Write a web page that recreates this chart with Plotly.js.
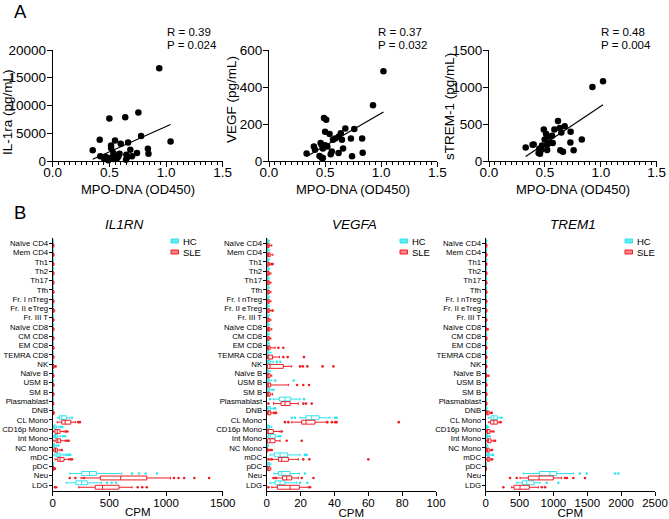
<!DOCTYPE html>
<html><head><meta charset="utf-8">
<script src="https://cdn.plot.ly/plotly-3.0.1.min.js"></script>
<style>html,body{margin:0;padding:0;background:#fff}#chart{width:669px;height:519px}</style>
</head><body><div id="chart"></div>
<script>
// ---------- Panel A data (MPO-DNA vs cytokine) ----------
const mpoIL = [0.94,1.04,0.756,0.64,0.50,0.78,0.415,0.353,0.55,0.665,0.60,0.515,0.515,0.685,0.84,0.845,0.744,0.42,0.47,0.48,0.506,0.535,0.55,0.58,0.59,0.65,0.66,0.70,0.535,0.456,0.647,0.49,0.57];
const il1ra = [16700,3530,8740,7900,7660,4490,3830,1920,3710,3350,3110,2810,2340,2040,2220,1320,1440,840,720,480,540,1440,960,840,1320,1140,720,840,360,360,240,120,540];
const mpoVEGF = [1.02,0.927,0.49,0.51,0.50,0.54,0.68,0.76,0.83,0.835,0.74,0.73,0.65,0.66,0.62,0.59,0.57,0.56,0.55,0.52,0.50,0.47,0.46,0.45,0.47,0.48,0.40,0.41,0.335,0.64,0.62,0.48];
const vegf = [485,301,232,223,158,146,175,173,121,45,25,121,115,68,43,122,115,52,36,79,85,86,97,27,18,16,79,61,41,150,131,67];
const mpoTREM = [1.02,0.925,0.83,0.73,0.728,0.757,0.677,0.617,0.632,0.585,0.647,0.564,0.546,0.528,0.51,0.49,0.498,0.522,0.474,0.45,0.465,0.444,0.456,0.52,0.40,0.39,0.328,0.638,0.662,0.57];
const strem1 = [1078,1001,292,395,251,144,471,539,445,427,386,341,251,332,368,427,292,224,211,166,148,108,99,148,224,220,184,144,126,242];
const xTitleA = 'MPO-DNA (OD450)';
const yTitlesA = ['IL-1ra (pg/mL)','VEGF (pg/mL)','sTREM-1 (pg/mL)'];
const rValues = ['0.39','0.37','0.48'];
const pValues = ['0.024','0.032','0.004'];

// ---------- Panel B data (CPM per cell type) ----------
const cellTypes = ['Naïve CD4','Mem CD4','Th1','Th2','Th17','Tfh','Fr. I nTreg','Fr. II eTreg','Fr. III T','Naïve CD8','CM CD8','EM CD8','TEMRA CD8','NK','Naïve B','USM B','SM B','Plasmablast','DNB','CL Mono','CD16p Mono','Int Mono','NC Mono','mDC','pDC','Neu','LDG'];
const geneNames = ['IL1RN','VEGFA','TREM1'];
const groupNames = ['HC','SLE'];
// each entry: [lower whisker, Q1, median, Q3, upper whisker]
const il1rnHC = [[0,0.5,1,2,4],[0,0.5,1,2,4],[0,0.5,1,2,4],[0,0.5,1,2,4],[0,0.5,1,2,4],[0,0.5,1,2,4],[0,0.5,1,2,4],[0,1,2,3,6],[0,0.5,1,2,4],[0,0.5,1,2,4],[0,0.5,1,2,4],[0,0.5,1,2,4],[0,0.5,1,2,4],[0,1,2,4,8],[0,0.5,1,2,4],[0,0.5,1,2,4],[0,0.5,1,2,4],[0,0.5,1,2,4],[0,0.5,1,2,4],[45,60,80,120,150],[3,10,18,30,55],[5,15,25,40,70],[2,6,12,20,35],[10,30,45,65,100],[0,1,2,4,8],[150,255,325,385,610],[120,205,255,305,430]];
const il1rnSLE = [[0,1,3,6,12],[0,1,3,6,12],[0,1,3,6,12],[0,1,3,6,12],[0,1,3,6,12],[0,1,3,6,12],[0,1,3,6,12],[0,2,5,10,18],[0,1,3,6,12],[0,1,3,6,12],[0,1,3,6,12],[0,1,3,6,12],[0,1,3,6,12],[0,2,5,10,20],[0,1,3,6,12],[0,1,3,6,12],[0,1,3,6,12],[0,1,2,5,10],[0,2,4,8,14],[40,80,110,160,200],[5,20,40,65,100],[10,30,45,70,110],[5,12,25,40,65],[20,45,65,100,140],[0,2,5,10,15],[250,420,600,830,1040],[230,375,440,585,700]];
const il1rnHCOut = [[],[],[],[],[],[],[],[],[],[],[],[],[],[],[],[],[],[],[],[170],[70,85],[90,110],[50],[120,140,155],[],[700,760,820,920],[480,520,560]];
const il1rnSLEOut = [[],[],[],[],[],[],[],[],[],[],[],[],[],[25],[],[],[],[],[],[225,240],[115,130],[125,140],[80],[155,170],[20],[150,200,275,1070,1110,1160,1250,1380],[20,30,750,790,830]];

const vegfaHC = [[0,0.2,0.4,0.8,1.5],[0,0.2,0.4,0.8,1.5],[0,0.2,0.4,0.8,1.5],[0,0.2,0.4,0.8,1.5],[0,0.2,0.4,0.8,1.5],[0,0.2,0.4,0.8,1.5],[0,0.2,0.4,0.8,1.5],[0,0.2,0.4,0.8,1.5],[0,0.2,0.4,0.8,1.5],[0,0.2,0.4,0.8,1.5],[0,0.2,0.4,0.8,1.5],[0,0.2,0.4,0.8,1.5],[0,0.3,0.6,1.2,2.5],[0,0.5,1,2,4],[0,0.2,0.5,1,2],[0,0.3,0.8,1.5,3],[0,0.3,0.8,1.5,3],[4,7.5,10.8,14.2,19.7],[0,0.5,1.2,2.2,4],[19.7,23.2,26.6,30.9,37.4],[0,0.3,0.7,1.6,3],[0,1,2,5,7],[0,0.1,0.3,0.6,1],[2,4.5,7.9,12.4,19.7],[0,0.3,0.7,1.5,2.5],[4.3,6.9,8.9,13.8,19.3],[2,4.9,7.9,10.8,17.7]];
const vegfaSLE = [[0,0.3,0.8,1.5,3],[0,0.5,1,2,3.7],[0,0.3,0.8,1.5,2.5],[0,0.3,0.8,1.5,2.5],[0,0.3,0.8,1.5,2.5],[0,0.3,0.8,1.5,2.5],[0,0.3,0.8,1.5,2.5],[0,0.3,0.8,1.5,2.5],[0,0.3,0.8,1.5,2.5],[0,0.5,1,1.8,3],[0,0.3,0.8,1.5,2.5],[0,0.5,1,2,5],[0,0.6,1,3.5,7.5],[0,0.4,2,9.8,14.8],[0,0.3,0.8,2,3],[0,0.3,1,2.4,12.8],[0,0.4,1,2,3.5],[4,8.5,10.8,13.8,18.7],[0,0.5,1.2,2.4,4],[14.8,20.7,23.2,28.5,35.4],[0,0.3,0.6,3.9,7.9],[0,0.4,2,4.9,7.9],[0,0.1,0.3,0.6,1],[2,6.9,8.9,12.8,18.7],[0,0.4,1,2,2.4],[4.9,9.4,11.8,14.8,18.7],[3,6.3,13.8,19.3,24.6]];
const vegfaHCOut = [[],[],[],[],[],[],[],[],[],[],[],[],[],[6,8],[],[5,16],[4],[2,22],[5],[14.8,16.7,40.4,41.3],[],[8],[],[22.6,23.6],[],[22.6],[19.7,24]];
const vegfaSLEOut = [[],[],[3,3.5],[],[],[],[],[3.5],[],[],[],[6.9,9.8],[9.8,12.4,22],[19.7,21.3,24,33,39.4],[],[18,21.6,25],[],[1,21.6,23.2,26.6],[5,5.5],[10.8,12.8,35.8,38.5,40.4,41.3,78],[8.9],[11.8,20.7],[2,3],[1,3,21.6,25.2,60],[],[4,5.5,20.7,27.6],[1,25.6]];

const trem1HC = [[0,2,4,8,15],[0,2,4,8,15],[0,2,4,8,15],[0,2,4,8,15],[0,2,4,8,15],[0,2,4,8,15],[0,2,4,8,15],[0,2,4,8,15],[0,2,4,8,15],[0,2,4,8,15],[0,2,4,8,15],[0,2,4,8,15],[0,2,4,8,15],[0,2,4,8,15],[0,2,4,8,15],[0,2,4,8,15],[0,2,4,8,15],[0,2,4,8,15],[0,3,6,12,20],[40,80,120,170,210],[0,5,12,25,45],[0,5,12,25,45],[0,3,8,15,30],[10,25,40,60,90],[0,1,3,6,10],[556,792,950,1048,1294],[458,541,605,713,802]];
const trem1SLE = [[0,3,6,12,20],[0,3,6,12,20],[0,3,6,12,20],[0,3,6,12,20],[0,3,6,12,20],[0,3,6,12,20],[0,3,6,12,20],[0,3,6,12,20],[0,3,6,12,20],[0,3,6,12,20],[0,3,6,12,20],[0,3,6,12,20],[0,3,6,12,20],[0,3,6,12,20],[0,3,6,12,20],[0,3,6,12,20],[0,3,6,12,20],[0,3,6,12,20],[0,10,25,50,75],[45,74,120,172,200],[0,15,30,64,89],[5,25,40,79,113],[0,10,25,50,75],[5,20,35,60,80],[0,2,4,8,12],[507,630,787,999,1122],[384,418,507,644,777]];
const trem1HCOut = [[],[],[],[],[],[],[],[],[],[],[],[],[],[],[],[],[],[],[],[235],[],[60],[],[110],[],[1392,1491,1909,1958],[900,1073]];
const trem1SLEOut = [[],[],[],[],[],[],[],[],[],[30],[],[],[],[],[40],[],[],[],[90],[220],[113],[138],[95],[95],[],[359,458,1171,1200,1294,1466],[261,827,876]];

const xMaxB = [1500,100,2500];
const xDtickB = [500,20,500];

// ---------- styling / geometry ----------
const W = 669, H = 519;
const FONT = 'Liberation Sans, Arial, Helvetica, sans-serif';
const HC_COLOR = '#2ee3ee', SLE_COLOR = '#ee1d25';
const px = v => v / W, py = v => 1 - v / H;

function linFit(xs, ys) {
  const n = xs.length;
  const mx = xs.reduce((a,b)=>a+b,0)/n, my = ys.reduce((a,b)=>a+b,0)/n;
  let sxy = 0, sxx = 0;
  for (let i=0;i<n;i++){ sxy += (xs[i]-mx)*(ys[i]-my); sxx += (xs[i]-mx)*(xs[i]-mx); }
  const b = sxy/sxx, a = my - b*mx;
  const x0 = Math.min(...xs), x1 = Math.max(...xs);
  return {x:[x0,x1], y:[a+b*x0, a+b*x1]};
}

const data = [];
const scatterSets = [[mpoIL, il1ra],[mpoVEGF, vegf],[mpoTREM, strem1]];
scatterSets.forEach((s, k) => {
  const ax = k === 0 ? '' : String(k+1);
  data.push({type:'scatter', mode:'markers', x:s[0], y:s[1], xaxis:'x'+ax, yaxis:'y'+ax,
    marker:{color:'#000', size:6.5}, cliponaxis:false, showlegend:false, hoverinfo:'skip'});
  const f = linFit(s[0], s[1]);
  data.push({type:'scatter', mode:'lines', x:f.x, y:f.y, xaxis:'x'+ax, yaxis:'y'+ax,
    line:{color:'#000', width:1.2}, showlegend:false, hoverinfo:'skip'});
});

const boxSets = [[il1rnHC, il1rnSLE, il1rnHCOut, il1rnSLEOut],[vegfaHC, vegfaSLE, vegfaHCOut, vegfaSLEOut],[trem1HC, trem1SLE, trem1HCOut, trem1SLEOut]];
const OFF = 0.24;
function boxTrace(stats, color, name, ax, off) {
  return {type:'box', orientation:'h', xaxis:'x'+ax, yaxis:'y'+ax, name:name, showlegend:false,
    y: stats.map((s,i)=>i+off),
    lowerfence: stats.map(s=>s[0]), q1: stats.map(s=>s[1]), median: stats.map(s=>s[2]),
    q3: stats.map(s=>s[3]), upperfence: stats.map(s=>s[4]),
    width:0.42, whiskerwidth:0.6, boxpoints:false,
    line:{color:color, width:1}, fillcolor:'rgba(255,255,255,0)', hoverinfo:'skip'};
}
function outTrace(outs, color, ax, off) {
  const xs = [], ys = [];
  outs.forEach((arr,i)=>arr.forEach(v=>{xs.push(v); ys.push(i+off);}));
  return {type:'scatter', mode:'markers', x:xs, y:ys, xaxis:'x'+ax, yaxis:'y'+ax,
    marker:{color:color, size:2.6}, cliponaxis:false, showlegend:false, hoverinfo:'skip'};
}
boxSets.forEach((b, k) => {
  const ax = String(k+4);
  data.push(boxTrace(b[0], HC_COLOR, groupNames[0], ax, -OFF));
  data.push(boxTrace(b[1], SLE_COLOR, groupNames[1], ax, OFF));
  data.push(outTrace(b[2], HC_COLOR, ax, -OFF));
  data.push(outTrace(b[3], SLE_COLOR, ax, OFF));
});

// ---------- layout ----------
const topX = [[52.7,222.7],[269,437.3],[489,656.7]];
const botX = [[52.7,222.7],[266.7,436],[485.7,655]];
const topY = [50,161], botY = [237.7,490.7];
const yRangeA = [[0,20000],[0,600],[0,1500]];
const yDtickA = [5000,200,500];

const layout = {
  width:W, height:H, margin:{l:0,r:0,t:0,b:0}, paper_bgcolor:'#fff', plot_bgcolor:'rgba(0,0,0,0)',
  font:{family:FONT, color:'#000'}, boxmode:'overlay', annotations:[], shapes:[], hovermode:false, showlegend:false
};
const tickFontA = {family:FONT, size:13.5, color:'#000'};
for (let k=0;k<3;k++){
  const sfx = k===0 ? '' : String(k+1);
  layout['xaxis'+sfx] = {domain:[px(topX[k][0]), px(topX[k][1])], anchor:'y'+sfx, range:[0,1.5], dtick:0.5, tickformat:'.1f',
    showgrid:false, zeroline:false, showline:true, linecolor:'#000', linewidth:1, ticks:'outside', ticklen:5, tickwidth:1, tickcolor:'#000',
    ticklabelstandoff:-6,
    minor:{dtick:0.05, ticks:'outside', ticklen:2.5, tickcolor:'#000', tickwidth:1, showgrid:false},
    tickfont:tickFontA, automargin:false};
  layout['yaxis'+sfx] = {domain:[py(topY[1]), py(topY[0])], anchor:'x'+sfx, range:yRangeA[k], dtick:yDtickA[k], tickformat:'d',
    showgrid:false, zeroline:false, showline:true, linecolor:'#000', linewidth:1, ticks:'outside', ticklen:5, tickwidth:1, tickcolor:'#000',
    ticklabelstandoff:-2, tickfont:tickFontA, automargin:false};
  const b = String(k+4);
  layout['xaxis'+b] = {domain:[px(botX[k][0]), px(botX[k][1])], anchor:'y'+b, range:[0,xMaxB[k]], dtick:xDtickB[k],
    showgrid:false, zeroline:false, showline:true, linecolor:'#000', linewidth:1, ticks:'outside', ticklen:4, tickwidth:1, tickcolor:'#000',
    ticklabelstandoff:-3, tickfont:{family:FONT, size:11.5}, title:{text:'CPM', font:{family:FONT, size:11.5}, standoff:0}, automargin:false};
  layout['yaxis'+b] = {domain:[py(botY[1]), py(botY[0])], anchor:'x'+b, range:[cellTypes.length-1+0.61, -0.6],
    tickmode:'array', tickvals:cellTypes.map((c,i)=>i), ticktext:cellTypes,
    showgrid:false, zeroline:false, showline:true, linecolor:'#000', linewidth:1, ticks:'outside', ticklen:3, tickwidth:1, tickcolor:'#000',
    ticklabelstandoff:-1, tickfont:{family:FONT, size:7.8}, automargin:false};
}
// legend (HC / SLE) for each gene panel
const legendX = [171,400,625];
const legendY = [241,252];
const groupColors = [HC_COLOR, SLE_COLOR];
const groupFills = ['rgba(46,227,238,0.75)','rgba(238,29,37,0.55)'];
for (let k=0;k<3;k++){
  for (let g=0; g<2; g++){
    layout.shapes.push({type:'rect', xref:'paper', yref:'paper', x0:px(legendX[k]), x1:px(legendX[k]+7.5), y0:py(legendY[g]+2), y1:py(legendY[g]-2),
      line:{color:groupColors[g], width:1}, fillcolor:groupFills[g]});
    layout.annotations.push({text:groupNames[g], x:px(legendX[k]+10.5), y:py(legendY[g]), xref:'paper', yref:'paper', xanchor:'left', yanchor:'middle',
      showarrow:false, font:{family:FONT, size:9.5}, borderpad:0});
  }
}
// titles / labels
const ann = layout.annotations;
ann.push({text:'A', x:px(12), y:py(12), xref:'paper', yref:'paper', xanchor:'left', yanchor:'middle', showarrow:false, font:{family:FONT,size:18.5}});
ann.push({text:'B', x:px(12), y:py(213), xref:'paper', yref:'paper', xanchor:'left', yanchor:'middle', showarrow:false, font:{family:FONT,size:18.5}});
const yTitlePos = [[8,112],[232,100],[449,107]];
const rpX = [166,377,600];
for (let k=0;k<3;k++){
  ann.push({text:xTitleA, x:(topX[k][0]+topX[k][1])/2/W, y:py(189), xref:'paper', yref:'paper', xanchor:'center', yanchor:'middle', showarrow:false, borderpad:0, font:{family:FONT,size:13}});
  ann.push({text:yTitlesA[k], textangle:-90, x:px(yTitlePos[k][0]), y:py(yTitlePos[k][1]), xref:'paper', yref:'paper', xanchor:'center', yanchor:'middle', showarrow:false, borderpad:0, font:{family:FONT,size:13.5}});
  ann.push({text:'R = '+rValues[k], x:px(rpX[k]), y:py(31.5), xref:'paper', yref:'paper', xanchor:'left', yanchor:'middle', showarrow:false, borderpad:0, font:{family:FONT,size:11.5}});
  ann.push({text:'P = '+pValues[k], x:px(rpX[k]), y:py(44.5), xref:'paper', yref:'paper', xanchor:'left', yanchor:'middle', showarrow:false, borderpad:0, font:{family:FONT,size:11.5}});
  ann.push({text:geneNames[k], x:(botX[k][0]+botX[k][1])/2/W + [-0.019,0.005,0.004][k], y:py(225), xref:'paper', yref:'paper', xanchor:'center', yanchor:'middle', showarrow:false, font:{family:FONT,size:13.5,style:'italic'}});
}

Plotly.newPlot('chart', data, layout, {displayModeBar:false, staticPlot:true});
</script></body></html>
